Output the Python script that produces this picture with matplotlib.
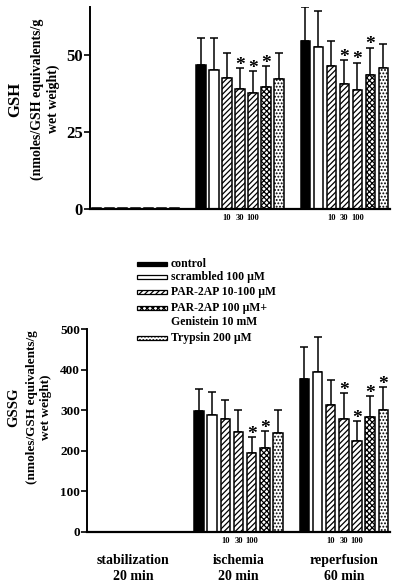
import matplotlib
matplotlib.use("Agg")
import matplotlib.pyplot as plt
from matplotlib.patches import Rectangle
import matplotlib.transforms as mtransforms

plt.rcParams['font.family'] = ['Liberation Serif', 'DejaVu Serif']
plt.rcParams['font.weight'] = 'bold'
plt.rcParams['hatch.linewidth'] = 0.9

groups = ['stabilization\n20 min', 'ischemia\n20 min', 'reperfusion\n60 min']
treatments = ['control', 'scrambled 100 \u00b5M', 'PAR-2AP 10-100 \u00b5M',
              'PAR-2AP 100 \u00b5M+\nGenistein 10 mM', 'Trypsin 200 \u00b5M']
doses = ['10', '30', '100']

# GSH (nmoles/GSH equivalents/g wet weight)
gsh_stab = [0.3, 0.3, 0.3, 0.3, 0.3, 0.3, 0.3]
gsh_stab_err = [0, 0, 0, 0, 0, 0, 0]
gsh_isch = [46.8, 45.1, 42.6, 38.9, 37.8, 39.7, 42.1]
gsh_isch_err = [8.8, 10.5, 7.9, 6.8, 7.0, 6.7, 8.7]
gsh_rep = [54.7, 52.5, 46.5, 40.6, 38.6, 43.5, 45.9]
gsh_rep_err = [10.8, 11.9, 8.0, 7.8, 8.9, 8.9, 7.6]
gsh_stars = [[], [3, 4, 5], [3, 4, 5]]

# GSSG
gssg_stab = [0, 0, 0, 0, 0, 0, 0]
gssg_stab_err = [0, 0, 0, 0, 0, 0, 0]
gssg_isch = [297, 287, 279, 246, 195, 206, 244]
gssg_isch_err = [55, 58, 45, 55, 39, 42, 57]
gssg_rep = [377, 393, 313, 278, 223, 283, 301]
gssg_rep_err = [78, 87, 62, 64, 50, 51, 56]
gssg_stars = [[], [4, 5], [3, 4, 5, 6]]

# bar look: (face, hatch) per bar within a group
bar_styles = [('black', None), ('white', None), ('white', '//////'),
              ('white', '//////'), ('white', '//////'), ('white', 'xxxxxx'),
              ('white', '.....')]
legend_styles = [0, 1, 2, 5, 6]

fig = plt.figure(figsize=(4.0, 5.83), dpi=100)


def draw_panel(ax, vals, errs, stars, tick_fs):
    for g in range(3):
        for i in range(7):
            x = g * 8 + i
            face, hatch = bar_styles[i]
            ax.bar(x, vals[g][i], width=0.72, color=face, edgecolor='black',
                   hatch=hatch, linewidth=1.1, zorder=2)
            if errs[g][i] > 0:
                ax.errorbar(x, vals[g][i], yerr=[[0], [errs[g][i]]], fmt='none',
                            ecolor='black', elinewidth=1.1, capsize=3,
                            capthick=1.1, zorder=1)
            if i in stars[g]:
                ax.annotate('*', (x, vals[g][i] + errs[g][i]), xytext=(0, -4),
                            textcoords='offset points', ha='center', va='bottom',
                            fontsize=14, fontweight='bold')
    ax.set_xlim(-0.5, 22.5)
    for s in ['top', 'right']:
        ax.spines[s].set_visible(False)
    ax.spines['left'].set_linewidth(1.4)
    ax.spines['bottom'].set_linewidth(1.6)
    ax.tick_params(axis='y', direction='out', length=4, width=1.2,
                   labelsize=tick_fs, pad=1)
    trans = mtransforms.blended_transform_factory(ax.transData, ax.transAxes)
    for g in (1, 2):
        for k, d in enumerate(doses):
            ax.text(g * 8 + 2 + k, -0.025, d, transform=trans, ha='center',
                    va='top', fontsize=6)


ax1 = fig.add_axes([90 / 400, 374 / 583, 300 / 400, 202 / 583])
draw_panel(ax1, [gsh_stab, gsh_isch, gsh_rep],
           [gsh_stab_err, gsh_isch_err, gsh_rep_err], gsh_stars, 12)
ax1.set_ylim(0, 65.6)
ax1.set_yticks([0, 25, 50])
ax1.set_xticks([])

ax2 = fig.add_axes([87 / 400, 51 / 583, 303 / 400, 203 / 583])
draw_panel(ax2, [gssg_stab, gssg_isch, gssg_rep],
           [gssg_stab_err, gssg_isch_err, gssg_rep_err], gssg_stars, 9.5)
ax2.set_ylim(0, 500)
ax2.set_yticks([0, 100, 200, 300, 400, 500])
ax2.set_xticks([3, 11, 19])
ax2.set_xticklabels(groups, fontsize=10, linespacing=1.3)
ax2.tick_params(axis='x', length=0, pad=16)

# y labels
fig.text(15 / 400, 1 - 99 / 583, 'GSH', rotation=90, ha='center', va='center',
         fontsize=12, fontweight='bold')
fig.text(37.5 / 400, 1 - 99 / 583, '(nmoles/GSH equivalents/g', rotation=90,
         ha='center', va='center', fontsize=10, fontweight='bold')
fig.text(53.5 / 400, 1 - 99 / 583, 'wet weight)', rotation=90, ha='center',
         va='center', fontsize=10, fontweight='bold')
fig.text(14 / 400, 1 - 407 / 583, 'GSSG', rotation=90, ha='center', va='center',
         fontsize=10.5, fontweight='bold')
fig.text(32 / 400, 1 - 407 / 583, '(nmoles/GSH equivalents/g', rotation=90,
         ha='center', va='center', fontsize=9.5, fontweight='bold')
fig.text(46 / 400, 1 - 407 / 583, 'wet weight)', rotation=90, ha='center',
         va='center', fontsize=9.5, fontweight='bold')

# legend between panels
leg_y = [264, 277, 292, 308, 338]
for label, si, yp in zip(treatments, legend_styles, leg_y):
    face, hatch = bar_styles[si]
    fig.add_artist(Rectangle((137 / 400, 1 - (yp + 2) / 583), 30 / 400, 4 / 583,
                             facecolor=face, edgecolor='black', hatch=hatch,
                             linewidth=0.9, transform=fig.transFigure))
    if '\n' in label:
        fig.text(171 / 400, 1 - (yp - 6) / 583, label, ha='left', va='top',
                 fontsize=8.5, fontweight='bold', linespacing=1.25)
    else:
        fig.text(171 / 400, 1 - yp / 583, label, ha='left', va='center',
                 fontsize=8.5, fontweight='bold')

fig.savefig('out.png', dpi=100)
